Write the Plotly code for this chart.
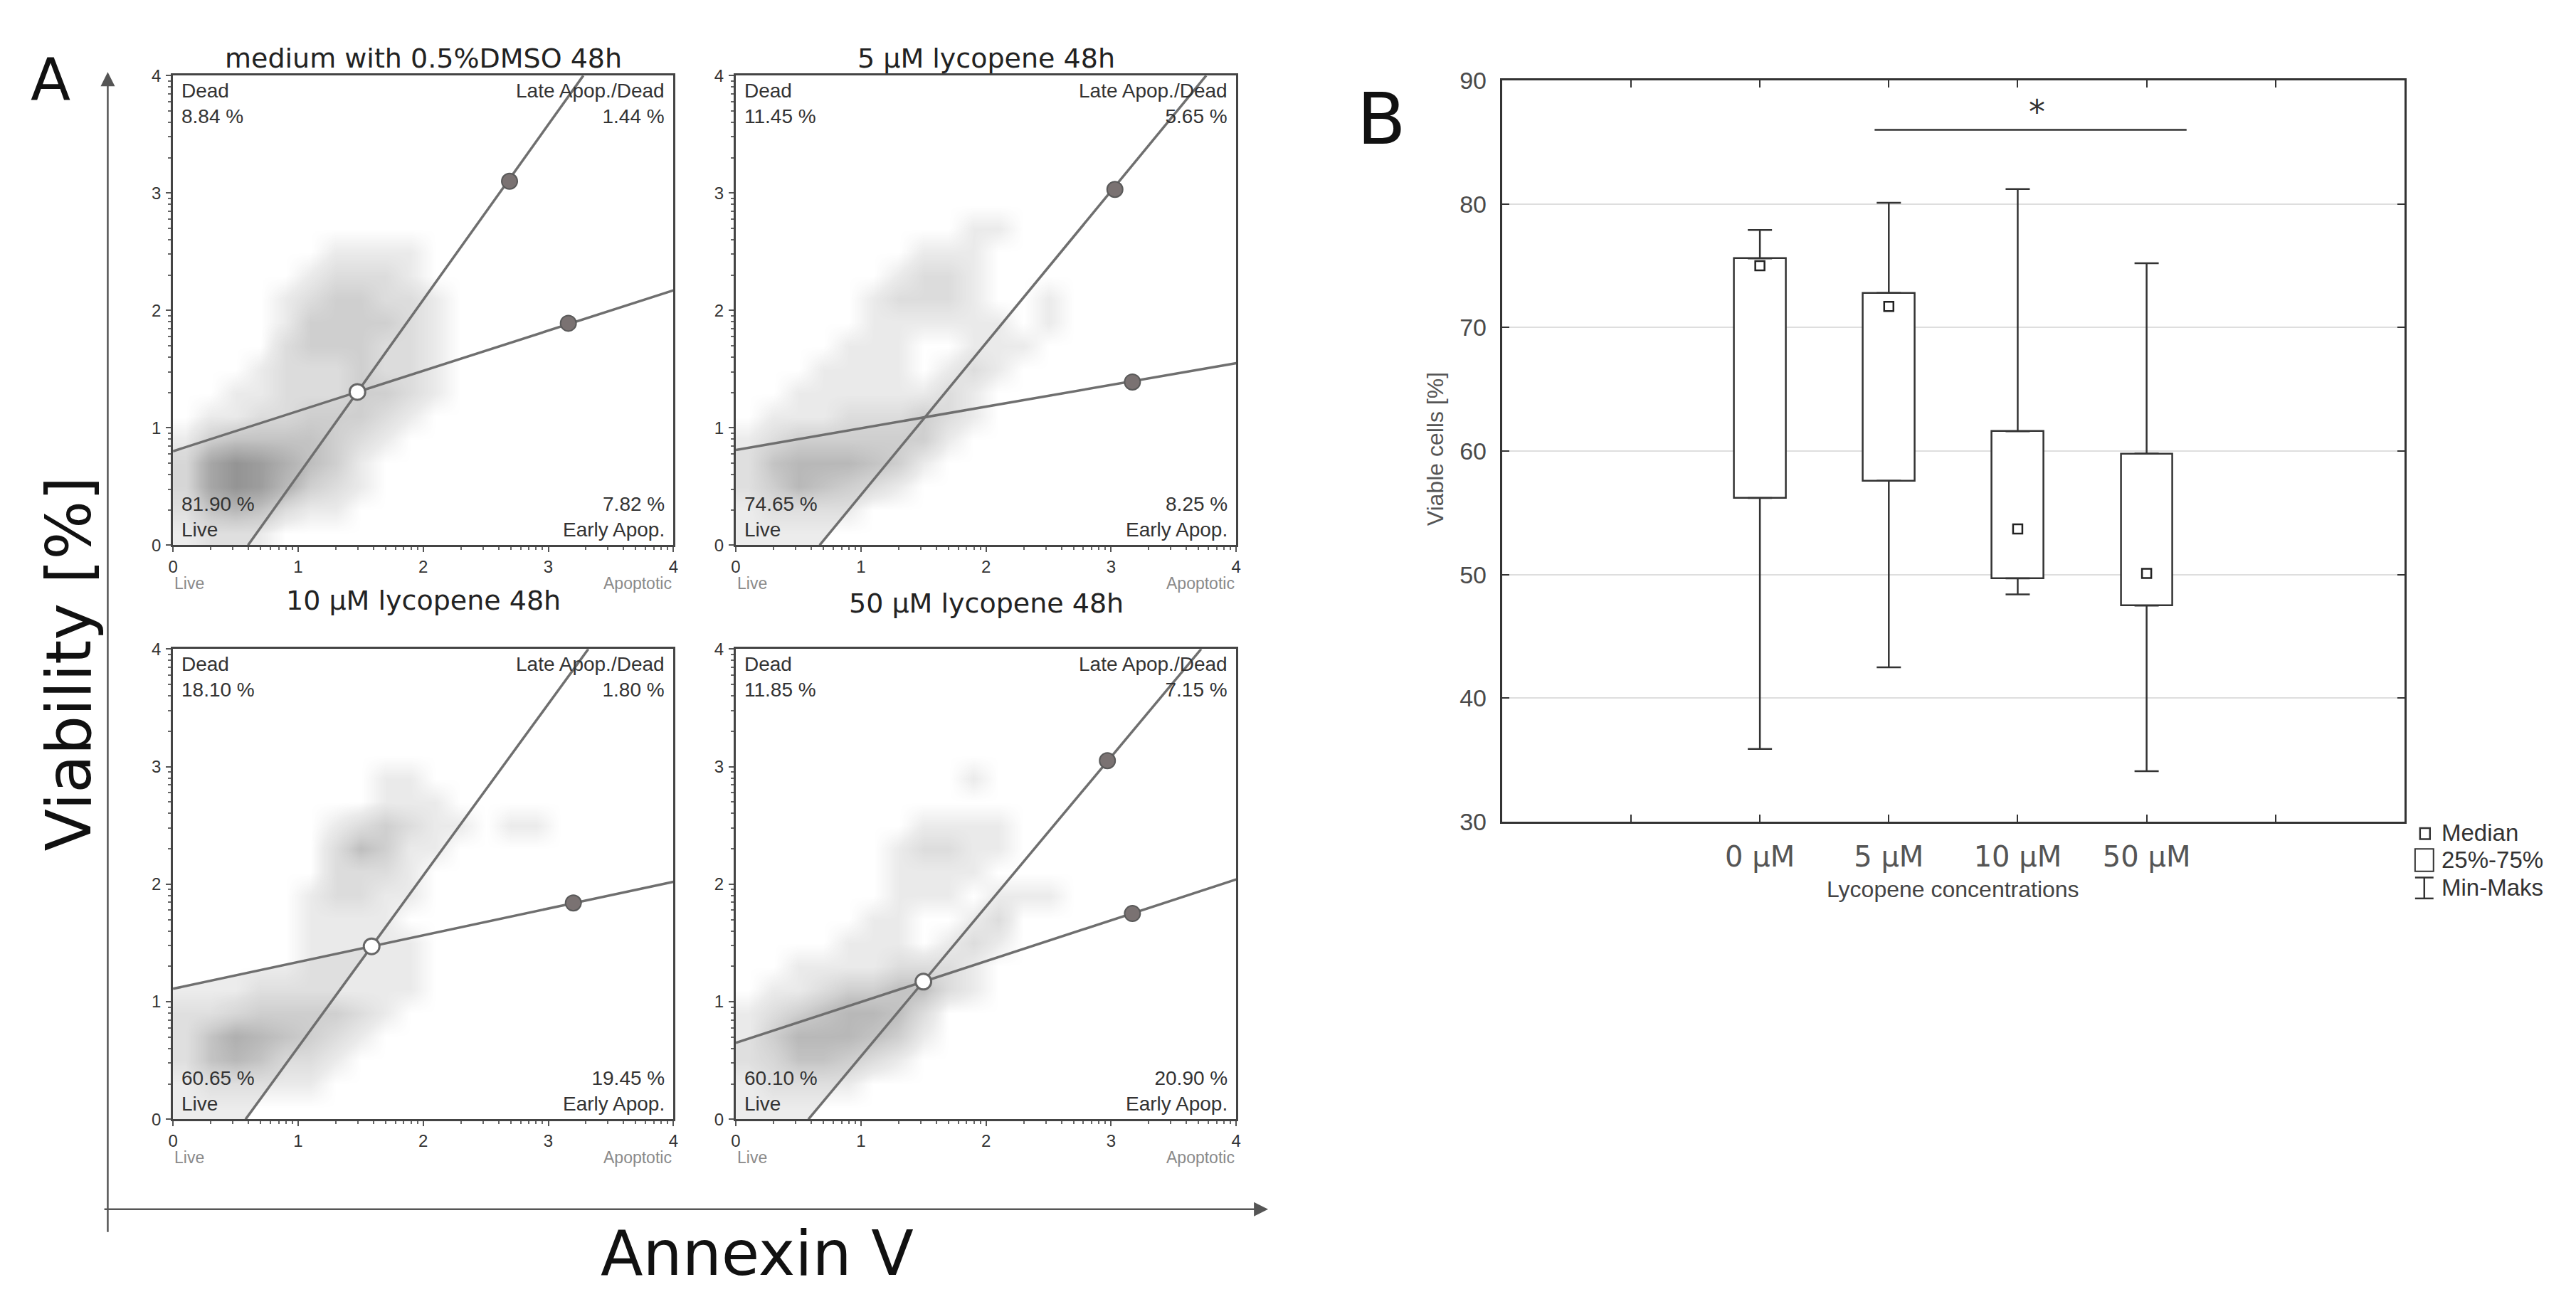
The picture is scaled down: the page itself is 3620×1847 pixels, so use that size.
import numpy as np
import plotly.graph_objects as go

W, H = 3620, 1847


def px(x):
    return x / W


def py(y):
    return 1 - y / H


# ---------------- panel A : annexin V / viability dot plots ----------------
titles = ["medium with 0.5%DMSO 48h", "5 µM lycopene 48h",
          "10 µM lycopene 48h", "50 µM lycopene 48h"]
dead_pct = [8.84, 11.45, 18.10, 11.85]
late_pct = [1.44, 5.65, 1.80, 7.15]
live_pct = [81.90, 74.65, 60.65, 60.10]
early_pct = [7.82, 8.25, 19.45, 20.90]

# gate lines (log-decade units 0..4)
steep_x0 = [0.60, 0.67, 0.58, 0.58]      # x where steep gate meets y = 0
steep_x4 = [3.28, 3.76, 3.32, 3.72]      # x where steep gate meets y = 4
shallow_y0 = [0.80, 0.81, 1.11, 0.65]    # y where shallow gate meets x = 0
shallow_y4 = [2.17, 1.55, 2.02, 2.04]    # y where shallow gate meets x = 4
steep_handle_x = [2.69, 3.03, None, 2.97]
steep_handle_y = [3.10, 3.03, None, 3.05]
shallow_handle_x = [3.16, 3.17, 3.20, 3.17]
shallow_handle_y = [1.89, 1.39, 1.84, 1.75]
centre_shown = [True, False, True, True]

# estimated event density, 0.2-unit cells, rows from y=4 (top) to y=0
density = [
    [  # DMSO
        "00000000000000000000", "00000000000000000000", "00000000000000000000",
        "00000000000000000000", "00000000000000000000", "00000000000000000000",
        "00000000000000000000", "00000011110000000000", "00000122210000000000",
        "00001233221000000000", "00001333321000000000", "00002333221000000000",
        "00012223221000000000", "00112223321000000000", "01122333210000000000",
        "13444432100000000000", "27986431000000000000", "27985321000000000000",
        "14542110000000000000", "01110000000000000000",
    ],
    [  # 5 uM
        "00000000000000000000", "00000000000000000000", "00000000000000000000",
        "00000000000000000000", "00000000000000000000", "00000000000000000000",
        "00000000011000000000", "00000001110000000000", "00000012210000000000",
        "00000122210010000000", "00000111111010000000", "00001110011100000000",
        "00011110121000000000", "00111111210000000000", "01112223210000000000",
        "12333333100000000000", "14555431000000000000", "13543210000000000000",
        "01111000000000000000", "00000000000000000000",
    ],
    [  # 10 uM
        "00000000000000000000", "00000000000000000000", "00000000000000000000",
        "00000000000000000000", "00000000000000000000", "00000000110000000000",
        "00000000111000000000", "00000012321101100000", "00000024311000000000",
        "00000022210000000000", "00000122110000000000", "00000111100000000000",
        "00000111110000000000", "00000111110000000000", "00011111110000000000",
        "11233332100000000000", "14654321000000000000", "14542210000000000000",
        "01111100000000000000", "00000000000000000000",
    ],
    [  # 50 uM
        "00000000000000000000", "00000000000000000000", "00000000000000000000",
        "00000000000000000000", "00000000000000000000", "00000000010000000000",
        "00000000000000000000", "00000001111000000000", "00000012211000000000",
        "00000011110000000000", "00000011101110000000", "00000110012000000000",
        "00001110121000000000", "00111122210000000000", "01123344210000000000",
        "12345542000000000000", "13555431000000000000", "12443210000000000000",
        "01111000000000000000", "00000000000000000000",
    ],
]

# ---------------- panel B : viable cells box chart ----------------
conc = ["0 µM", "5 µM", "10 µM", "50 µM"]
v_min = [35.9, 42.5, 48.4, 34.1]
v_q1 = [56.2, 57.6, 49.7, 47.5]
v_med = [75.0, 71.7, 53.7, 50.1]
v_q3 = [75.6, 72.8, 61.6, 59.8]
v_max = [77.9, 80.1, 81.2, 75.2]
sig_pair = ("5 µM", "50 µM")
sig_level = 86.0

# ---------------- layout geometry (pixels) ----------------
frames = [(237, 943, 89, 763), (1031, 1737, 89, 763),
          (237, 943, 912, 1587), (1031, 1737, 912, 1587)]
title_y = [64, 64, 842, 846]
B_frame = (2112, 3385, 96, 1160)

FONT = "Liberation Sans, Arial, sans-serif"
VFONT = "DejaVu Sans, Verdana, sans-serif"
GATE = "#6f6f6f"

minor_vals = [k + np.log10(d) for k in range(4) for d in range(2, 10)]

fig = go.Figure()


def note(x, y, text, size, color="#111", family=VFONT, xa="center", ya="middle", **kw):
    fig.add_annotation(x=px(x), y=py(y), xref="paper", yref="paper", text=text,
                       showarrow=False, xanchor=xa, yanchor=ya,
                       font=dict(family=family, size=size, color=color), **kw)


grid_c = [0.1 + 0.2 * i for i in range(20)]
dscale = [[0.0, "rgba(95,95,95,0)"], [0.111, "rgba(95,95,95,0.13)"],
          [0.333, "rgba(95,95,95,0.30)"], [0.555, "rgba(95,95,95,0.52)"],
          [0.777, "rgba(95,95,95,0.70)"], [1.0, "rgba(90,90,90,0.86)"]]

for i in range(4):
    n = "" if i == 0 else str(i + 1)
    xa, ya = "x" + n, "y" + n
    l, r, t, b = frames[i]

    z = [[int(c) for c in row] for row in reversed(density[i])]
    fig.add_trace(go.Heatmap(x=grid_c, y=grid_c, z=z, zmin=0, zmax=9, zsmooth="best",
                             colorscale=dscale, showscale=False, hoverinfo="skip",
                             xaxis=xa, yaxis=ya))

    # gate geometry
    s1 = 4 / (steep_x4[i] - steep_x0[i])
    s2 = (shallow_y4[i] - shallow_y0[i]) / 4
    ix = (steep_x0[i] * s1 + shallow_y0[i]) / (s1 - s2)
    iy = shallow_y0[i] + s2 * ix

    fig.add_trace(go.Scatter(x=[0, 0, ix, steep_x0[i], 0], y=[0, shallow_y0[i], iy, 0, 0],
                             fill="toself", fillcolor="rgba(205,205,205,0.38)",
                             mode="lines", line=dict(width=0), hoverinfo="skip",
                             xaxis=xa, yaxis=ya))
    fig.add_trace(go.Scatter(x=[steep_x0[i], steep_x4[i]], y=[0, 4], mode="lines",
                             line=dict(color=GATE, width=3.5), hoverinfo="skip",
                             xaxis=xa, yaxis=ya))
    fig.add_trace(go.Scatter(x=[0, 4], y=[shallow_y0[i], shallow_y4[i]], mode="lines",
                             line=dict(color=GATE, width=3.5), hoverinfo="skip",
                             xaxis=xa, yaxis=ya))
    hx = [shallow_handle_x[i]]
    hy = [shallow_handle_y[i]]
    if steep_handle_x[i] is not None:
        hx.append(steep_handle_x[i])
        hy.append(steep_handle_y[i])
    fig.add_trace(go.Scatter(x=hx, y=hy, mode="markers",
                             marker=dict(size=22, color="#7a7272", line=dict(color="#5a5a5a", width=2)),
                             hoverinfo="skip", xaxis=xa, yaxis=ya))
    if centre_shown[i]:
        fig.add_trace(go.Scatter(x=[ix], y=[iy], mode="markers",
                                 marker=dict(size=22, color="white", line=dict(color="#666", width=3)),
                                 hoverinfo="skip", xaxis=xa, yaxis=ya))

    axis_common = dict(range=[0, 4], showline=True, mirror=True, linecolor="#444", linewidth=3,
                       showgrid=False, zeroline=False, ticks="outside", ticklen=7, tickwidth=2,
                       tickcolor="#555", tickvals=[0, 1, 2, 3, 4],
                       tickfont=dict(family=FONT, size=24, color="#333"),
                       minor=dict(tickmode="array", tickvals=minor_vals, ticks="outside",
                                  ticklen=4, tickwidth=1.5, tickcolor="#666"))
    fig.update_layout(**{
        "xaxis" + n: dict(domain=[px(l), px(r)], anchor=ya, **axis_common),
        "yaxis" + n: dict(domain=[py(b), py(t)], anchor=xa, ticklabelstandoff=2, **axis_common),
    })

    note((l + r) / 2, title_y[i], titles[i], 38, "#222")
    note(l + 10, t + 4, f"Dead<br>{dead_pct[i]:.2f} %", 28, "#333", FONT, "left", "top", align="left")
    note(r - 10, t + 4, f"Late Apop./Dead<br>{late_pct[i]:.2f} %", 28, "#333", FONT, "right", "top",
         align="right")
    note(l + 10, b - 4, f"{live_pct[i]:.2f} %<br>Live", 28, "#333", FONT, "left", "bottom", align="left")
    note(r - 10, b - 4, f"{early_pct[i]:.2f} %<br>Early Apop.", 28, "#333", FONT, "right", "bottom",
         align="right")
    note(l, b + 55, "Live", 23, "#8a8a8a", FONT, "left")
    note(r, b + 55, "Apoptotic", 23, "#8a8a8a", FONT, "right")

# panel A outer arrows and labels
fig.add_annotation(x=px(145), y=py(84), xref="paper", yref="paper", ax=0, ay=1716 - 84,
                   axref="pixel", ayref="pixel", text="", showarrow=True, arrowhead=2,
                   arrowsize=1.6, arrowwidth=2.5, arrowcolor="#555", standoff=0)
fig.add_annotation(x=px(1782), y=py(1716), xref="paper", yref="paper", ax=-(1782 - 145), ay=0,
                   axref="pixel", ayref="pixel", text="", showarrow=True, arrowhead=2,
                   arrowsize=1.6, arrowwidth=2.5, arrowcolor="#555", standoff=0)
note(1061, 1780, "Annexin V", 87)
note(90, 933, "Viability [%]", 87, textangle=-90)
note(64, 94, "A", 82)
note(1942, 152, "B", 100)

# ---------------- panel B traces ----------------
pos = [k + 2 for k in range(len(conc))]
q_h = [a - b for a, b in zip(v_q3, v_q1)]
fig.add_trace(go.Bar(x=pos, y=q_h, base=v_q1, width=0.4,
                     marker=dict(color="white", line=dict(color="#333", width=2.5)),
                     hoverinfo="skip", xaxis="x5", yaxis="y5"))
fig.add_trace(go.Scatter(x=pos, y=v_q3, mode="markers", marker=dict(size=1, opacity=0),
                         error_y=dict(type="data", symmetric=False,
                                      array=[a - b for a, b in zip(v_max, v_q3)],
                                      arrayminus=[0] * len(conc), width=17, thickness=2.5, color="#333"),
                         hoverinfo="skip", xaxis="x5", yaxis="y5"))
fig.add_trace(go.Scatter(x=pos, y=v_q1, mode="markers", marker=dict(size=1, opacity=0),
                         error_y=dict(type="data", symmetric=False, array=[0] * len(conc),
                                      arrayminus=[a - b for a, b in zip(v_q1, v_min)],
                                      width=17, thickness=2.5, color="#333"),
                         hoverinfo="skip", xaxis="x5", yaxis="y5"))
fig.add_trace(go.Scatter(x=pos, y=v_med, mode="markers",
                         marker=dict(symbol="square-open", size=13, color="#222", line=dict(width=2.5)),
                         hoverinfo="skip", xaxis="x5", yaxis="y5"))
sx0 = pos[conc.index(sig_pair[0])] - 0.11
sx1 = pos[conc.index(sig_pair[1])] + 0.31
fig.add_trace(go.Scatter(x=[sx0, sx1], y=[sig_level, sig_level], mode="lines",
                         line=dict(color="#333", width=2.5), hoverinfo="skip", xaxis="x5", yaxis="y5"))
fig.add_annotation(x=(sx0 + sx1) / 2 + 0.05, y=sig_level, xref="x5", yref="y5", text="*",
                   showarrow=False, xanchor="center", yanchor="bottom", yshift=-4,
                   font=dict(family=VFONT, size=46, color="#333"))

bl, br, bt, bb = B_frame
fig.update_layout(
    xaxis5=dict(domain=[px(bl), px(br)], anchor="y5", range=[0, 7], tickvals=list(range(1, 7)),
                ticktext=[""] + conc + [""], ticks="inside", ticklen=10, tickwidth=2, tickcolor="#333",
                showline=True, mirror="allticks", linecolor="#333", linewidth=3, showgrid=False,
                zeroline=False, ticklabelstandoff=12,
                tickfont=dict(family=VFONT, size=40, color="#555")),
    yaxis5=dict(domain=[py(bb), py(bt)], anchor="x5", range=[30, 90], dtick=10, ticks="inside",
                ticklen=10, tickwidth=2, tickcolor="#333", showline=True, mirror="allticks",
                linecolor="#333", linewidth=3, showgrid=True, gridcolor="#dedede", gridwidth=2,
                zeroline=False, ticklabelstandoff=12,
                tickfont=dict(family=FONT, size=34, color="#4a4a4a")),
)
note(2748, 1257, "Lycopene concentrations", 32, "#444", FONT)
note(2018, 625, "Viable cells [%]", 32, "#555", FONT, textangle=-90)

# legend of panel B (keys drawn as shapes)
fig.add_shape(type="rect", xref="paper", yref="paper", x0=px(3407), x1=px(3421), y0=py(1185), y1=py(1169),
              line=dict(color="#333", width=2.5))
fig.add_shape(type="rect", xref="paper", yref="paper", x0=px(3400), x1=px(3426), y0=py(1231), y1=py(1199),
              line=dict(color="#333", width=2))
for yy in (1240, 1270):
    fig.add_shape(type="line", xref="paper", yref="paper", x0=px(3400), x1=px(3426), y0=py(yy), y1=py(yy),
                  line=dict(color="#333", width=2.5))
fig.add_shape(type="line", xref="paper", yref="paper", x0=px(3413), x1=px(3413), y0=py(1240), y1=py(1270),
              line=dict(color="#333", width=2.5))
for label, yy in (("Median", 1176), ("25%-75%", 1214), ("Min-Maks", 1254)):
    note(3435, yy, label, 33, "#333", FONT, "left")

fig.update_layout(width=W, height=H, autosize=False, margin=dict(l=0, r=0, t=0, b=0),
                  paper_bgcolor="white", plot_bgcolor="white", showlegend=False, bargap=0)

fig.write_html("out.html", config={"displayModeBar": False},
               post_script="document.body.style.margin='0';")
